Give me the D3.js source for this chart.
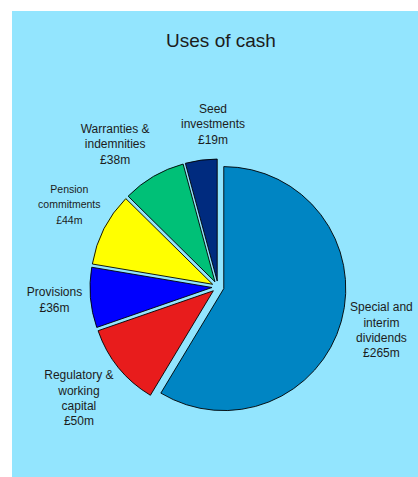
<!DOCTYPE html>
<html>
<head>
<meta charset="utf-8">
<script src="https://cdn.jsdelivr.net/npm/d3@7"></script>
<style>
  body { margin: 0; background: #fff; }
  text { font-family: "Liberation Sans", Arial, sans-serif; fill: #1c1c1c; }
</style>
</head>
<body>
<svg id="root" width="418" height="477"></svg>
<script>

const categories = ['Special and interim dividends', 'Regulatory & working capital', 'Provisions',
    'Pension commitments', 'Warranties & indemnities', 'Seed investments'];
const values = [265, 50, 36, 44, 38, 19];
const labelLines = [
    ['Special and', 'interim', 'dividends', '£265m'],
    ['Regulatory &', 'working', 'capital', '£50m'],
    ['Provisions', '£36m'],
    ['Pension', 'commitments', '£44m'],
    ['Warranties &', 'indemnities', '£38m'],
    ['Seed', 'investments', '£19m']
];
const colors = ['#0085c3', '#e81c1c', '#0000ff', '#ffff00', '#00c077', '#002b7f'];

// layout
const root = d3.select('#root');
const cx = 218, cy = 287;
const radius = 122;
const explode = 6;
// label placement: radius from centre and angle shift (degrees) from slice middle
const labelRadius = [169, 178, 164, 170, 176, 163];
const labelShift = [-0.8, 0.4, 0.3, 1.9, -5.5, 5.8];
const fontSizes = [12, 12, 12, 10.5, 12, 12];
const lineHeight = 15.3;

root.append('rect')
    .attr('x', 12).attr('y', 11)
    .attr('width', 418 - 12).attr('height', 477 - 11)
    .attr('fill', '#93e5fe');

root.append('text')
    .attr('x', 221).attr('y', 47)
    .attr('text-anchor', 'middle')
    .style('font-size', '19px')
    .text('Uses of cash');

const pie = d3.pie().sort(null).value(d => d.value);
const data = pie(categories.map((c, i) => ({ name: c, value: values[i], i })));

const arc = d3.arc().innerRadius(0).outerRadius(radius);

const g = root.append('g').attr('transform', `translate(${cx},${cy})`);

const mid = d => (d.startAngle + d.endAngle) / 2;

g.selectAll('path')
    .data(data)
    .enter()
    .append('path')
    .attr('d', arc)
    .attr('transform', d => `translate(${Math.sin(mid(d)) * explode},${-Math.cos(mid(d)) * explode})`)
    .attr('fill', (d, i) => colors[i])
    .attr('stroke', '#000')
    .attr('stroke-width', 0.9)
    .attr('stroke-linejoin', 'round');

const labels = g.selectAll('text.lbl')
    .data(data)
    .enter()
    .append('text')
    .attr('class', 'lbl')
    .attr('text-anchor', 'middle')
    .style('font-size', (d, i) => fontSizes[i] + 'px')
    .attr('transform', (d, i) => {
        const r = labelRadius[i];
        const a = mid(d) + labelShift[i] * Math.PI / 180;
        return `translate(${Math.sin(a) * r},${-Math.cos(a) * r})`;
    });

labels.each(function (d, i) {
    const lines = labelLines[i];
    const top = -(lines.length - 1) * lineHeight / 2;
    d3.select(this).selectAll('tspan')
        .data(lines)
        .enter()
        .append('tspan')
        .attr('x', 0)
        .attr('y', (t, k) => top + k * lineHeight)
        .attr('dy', '0.35em')
        .text(t => t);
});

</script>
</body>
</html>
